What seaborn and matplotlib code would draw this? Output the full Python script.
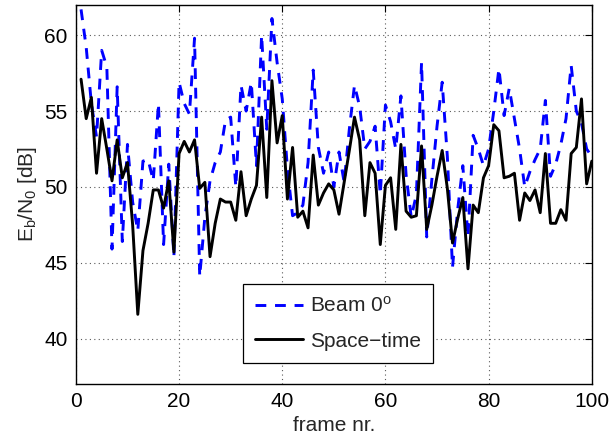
import matplotlib
matplotlib.use("Agg")
import matplotlib.pyplot as plt
import seaborn as sns
import pandas as pd
import numpy as np

frames = list(range(1, 101))

beam = [61.7, 59.2, 55.5, 53.3, 59.0, 57.9, 45.9, 56.6, 46.4, 52.8,
        49.0, 47.1, 51.7, 51.8, 50.4, 55.5, 46.2, 51.5, 45.4, 56.9,
        55.5, 54.8, 59.8, 44.1, 48.0, 50.4, 51.6, 52.3, 54.4, 54.6,
        50.0, 56.7, 55.0, 56.9, 51.4, 60.0, 53.8, 61.1, 58.2, 55.8,
        51.2, 48.1, 48.3, 48.8, 51.6, 57.7, 52.6, 50.9, 52.3, 50.0,
        52.3, 50.3, 53.8, 56.7, 55.3, 52.5, 53.0, 54.0, 49.5, 55.4,
        54.3, 52.5, 56.0, 50.8, 48.0, 49.5, 58.2, 46.7, 50.5, 54.0,
        56.9, 52.0, 44.7, 48.5, 51.4, 46.7, 53.4, 52.5, 51.4, 52.5,
        55.0, 57.8, 54.7, 56.5, 54.5, 52.5, 50.0, 51.0, 51.8, 52.5,
        55.7, 50.7, 51.5, 52.8, 54.5, 58.0, 55.0, 54.2, 52.5, 52.0]

spacetime = [57.1, 54.5, 55.9, 50.9, 54.5, 52.5, 50.4, 53.1, 50.6, 51.6,
             47.5, 41.6, 45.8, 47.6, 49.8, 49.8, 48.6, 50.4, 45.7, 52.2,
             53.0, 52.3, 53.1, 49.9, 50.3, 45.4, 47.6, 49.2, 49.0, 49.0,
             47.8, 51.0, 48.1, 49.2, 50.1, 54.6, 49.3, 57.0, 52.9, 54.7,
             49.2, 52.6, 48.0, 48.4, 47.3, 52.1, 48.8, 49.6, 50.2, 49.8,
             48.2, 50.3, 52.4, 54.6, 53.1, 48.1, 51.6, 50.9, 46.2, 50.1,
             50.6, 47.2, 52.8, 48.4, 48.0, 48.1, 52.7, 47.2, 48.8, 50.7,
             52.4, 49.9, 46.3, 47.9, 49.3, 44.6, 48.8, 48.3, 50.6, 51.4,
             54.1, 53.7, 50.6, 50.7, 50.9, 47.8, 49.6, 49.1, 49.8, 48.3,
             52.2, 47.6, 47.6, 48.5, 47.8, 52.2, 52.6, 55.8, 50.2, 51.7]

labels = ["Beam 0$^\\mathrm{o}$", "Space\u2212time"]
xticks = [0, 20, 40, 60, 80, 100]
yticks = [40, 45, 50, 55, 60]

sns.set_theme(style="white")
plt.rcParams['font.family'] = ['Liberation Sans', 'DejaVu Sans']
plt.rcParams['mathtext.fontset'] = 'custom'
plt.rcParams['mathtext.rm'] = 'Liberation Sans'
plt.rcParams['mathtext.it'] = 'Liberation Sans'
plt.rcParams['mathtext.default'] = 'regular'

df = pd.DataFrame({"frame": frames * 2,
                   "value": beam + spacetime,
                   "series": [labels[0]] * len(frames) + [labels[1]] * len(frames)})

fig = plt.figure(figsize=(6.12, 4.41), dpi=100)
ax = fig.add_axes([0.124, 0.129, 0.843, 0.860])

sns.lineplot(data=df, x="frame", y="value", hue="series", style="series",
             palette={labels[0]: "#0000ff", labels[1]: "black"},
             dashes={labels[0]: (3.7, 3.0), labels[1]: ""},
             linewidth=2.1, ax=ax, legend=False, estimator=None)

ax.set_xlim(0, 100)
ax.set_ylim(37, 62)
ax.set_xticks(xticks)
ax.set_yticks(yticks)
ax.tick_params(direction='in', length=5, width=0.8, top=True, right=True,
               labelsize=15, colors='black', pad=6)
ax.grid(True, linestyle=(0, (1, 3)), color='0.35', linewidth=0.8)
for s in ax.spines.values():
    s.set_visible(True)
    s.set_color('black')
    s.set_linewidth(1.0)

ax.set_xlabel("frame nr.", fontsize=15, labelpad=3)
ax.set_ylabel("E$_\\mathrm{b}$/N$_\\mathrm{0}$ [dB]", fontsize=15, labelpad=4)

from matplotlib.lines import Line2D
handles = [Line2D([], [], color="#0000ff", lw=2.1, dashes=(3.7, 3.0)),
           Line2D([], [], color="black", lw=2.1)]
leg = ax.legend(handles, labels, loc='lower center', bbox_to_anchor=(0.508, 0.055),
                fontsize=15, frameon=True, fancybox=False, edgecolor='black',
                framealpha=1, handlelength=2.3, borderpad=0.6, labelspacing=0.75,
                handletextpad=0.3, borderaxespad=0.0)
leg.get_frame().set_linewidth(0.9)

fig.savefig("out.png", dpi=100)
